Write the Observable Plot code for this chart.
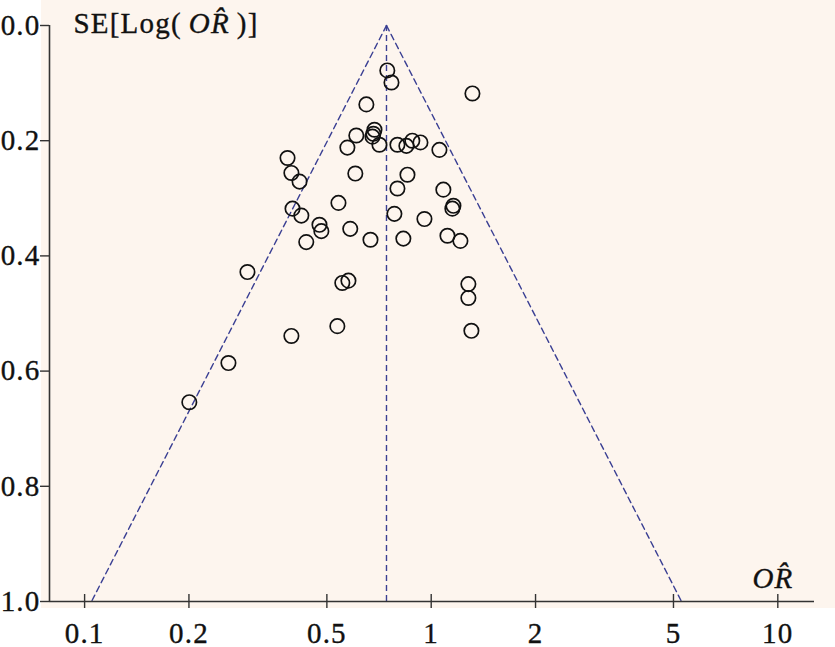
<!DOCTYPE html>
<html>
<head>
<meta charset="utf-8">
<script src="https://cdn.jsdelivr.net/npm/d3@7"></script>
<script src="https://cdn.jsdelivr.net/npm/@observablehq/plot@0.6"></script>
<style>
html, body { margin: 0; padding: 0; background: #ffffff; }
#wrap { position: relative; width: 835px; height: 647px; overflow: hidden; }
#bg { position: absolute; left: 41px; top: 0; width: 794px; height: 608px; background: #fdf5ee; }
#chart { position: absolute; left: 0; top: 0; }
#chart svg text { font-family: "Liberation Serif", serif; letter-spacing: 1.2px; stroke: #111111; stroke-width: 0.35px; }
</style>
</head>
<body>
<div id="wrap"><div id="bg"></div><div id="chart"></div></div>
<script>
// Study odds ratios and standard errors of log(OR)
const orValues = [0.747, 0.768, 1.315, 0.650, 0.686, 0.681, 0.677, 0.608, 0.573, 0.709,
                  0.799, 0.848, 0.882, 0.931, 1.056, 0.385, 0.395, 0.417, 0.604, 0.854,
                  0.799, 1.084, 0.540, 1.159, 1.151, 0.398, 0.422, 0.476, 0.482, 0.436,
                  0.584, 0.668, 0.783, 0.956, 0.831, 1.114, 1.214, 0.554, 0.577, 1.280,
                  1.280, 0.536, 0.395, 1.306, 0.295, 0.260, 0.2005];
const seValues = [0.078, 0.099, 0.118, 0.137, 0.181, 0.188, 0.193, 0.191, 0.212, 0.207,
                  0.207, 0.209, 0.200, 0.203, 0.216, 0.230, 0.256, 0.271, 0.257, 0.259,
                  0.283, 0.285, 0.308, 0.313, 0.318, 0.318, 0.330, 0.346, 0.357, 0.376,
                  0.353, 0.372, 0.327, 0.336, 0.370, 0.365, 0.374, 0.447, 0.443, 0.449,
                  0.473, 0.522, 0.539, 0.530, 0.428, 0.586, 0.654];

// Pooled estimate and pseudo-95% funnel limits (OR at SE = 0 and SE = 1)
const pooledOR = 0.743;
const funnelSE = [0, 1];
const funnelLeftOR = [0.743, 0.1047];
const funnelRightOR = [0.743, 5.274];

// Axes
const xDomain = [0.0792, 12.76];
const yDomain = [0, 1];
const xTicks = [0.1, 0.2, 0.5, 1, 2, 5, 10];
const xTickLabels = ["0.1", "0.2", "0.5", "1", "2", "5", "10"];
const yTicks = [0, 0.2, 0.4, 0.6, 0.8, 1.0];
const yTickLabels = ["0.0", "0.2", "0.4", "0.6", "0.8", "1.0"];
const titleText = "SE[Log(OR)]";
const xLabelText = "OR";

const studies = orValues.map((or, i) => ({ or, se: seValues[i] }));
const leftLine = funnelSE.map((se, i) => ({ or: funnelLeftOR[i], se }));
const rightLine = funnelSE.map((se, i) => ({ or: funnelRightOR[i], se }));
const xTickData = xTicks.map((v, i) => ({ v, label: xTickLabels[i] }));
const yTickData = yTicks.map((v, i) => ({ v, label: yTickLabels[i] }));

const serif = "Liberation Serif";
const axisColor = "#333333";
const textColor = "#111111";
const funnelColor = "#3a3f93";
const fs = 29;

const plot = Plot.plot({
  width: 835,
  height: 647,
  marginLeft: 49,
  marginRight: 21,
  marginTop: 25,
  marginBottom: 46,
  style: { background: "transparent", fontFamily: serif, fontSize: fs + "px", color: textColor, overflow: "visible" },
  x: { type: "log", domain: xDomain, axis: null },
  y: { domain: yDomain, reverse: true, axis: null },
  marks: [
    // funnel
    Plot.line(leftLine, { x: "or", y: "se", stroke: funnelColor, strokeWidth: 1.4, strokeDasharray: "6,4" }),
    Plot.line(rightLine, { x: "or", y: "se", stroke: funnelColor, strokeWidth: 1.4, strokeDasharray: "6,4" }),
    Plot.ruleX([pooledOR], { y1: yDomain[0], y2: yDomain[1], stroke: funnelColor, strokeWidth: 1.4, strokeDasharray: "6,4" }),
    // studies
    Plot.dot(studies, { x: "or", y: "se", r: 7.2, stroke: "#111111", strokeWidth: 1.7, fill: "none" }),
    // axis lines
    Plot.ruleX([xDomain[0]], { stroke: axisColor, strokeWidth: 1.6 }),
    Plot.ruleY([yDomain[1]], { stroke: axisColor, strokeWidth: 1.6 }),
    // y ticks and labels
    Plot.axisY({ ticks: yTicks, tickFormat: () => "", tickSize: 9, stroke: axisColor, strokeWidth: 1.4, label: null }),
    Plot.text(yTickData, { y: "v", text: "label", frameAnchor: "left", textAnchor: "end", lineAnchor: "middle", dx: -9, fontSize: fs, fontFamily: serif, fill: textColor }),
    // x ticks crossing the line, then labels
    Plot.axisX({ ticks: xTicks, tickSize: 14, dy: -7, tickFormat: () => "", stroke: axisColor, strokeWidth: 1.4, label: null }),
    Plot.text(xTickData, { x: "v", text: "label", frameAnchor: "bottom", textAnchor: "middle", lineAnchor: "bottom", dy: 41, fontSize: fs, fontFamily: serif, fill: textColor }),
    // titles
    Plot.text([titleText], { text: d => d, frameAnchor: "top-left", textAnchor: "start", lineAnchor: "bottom", dx: 24, dy: 7, fontSize: fs, fontFamily: serif, fill: textColor }),
    Plot.text([xLabelText], { text: d => d, frameAnchor: "bottom-right", textAnchor: "end", lineAnchor: "bottom", dx: -21, dy: -14, fontSize: fs, fontFamily: serif, fill: textColor })
  ]
});

document.getElementById("chart").appendChild(plot);

// Rich formatting: italic O R with circumflex over R
d3.select(plot).selectAll("text").each(function () {
  const t = this.textContent;
  if (t === titleText) {
    const sel = d3.select(this);
    sel.text(null);
    sel.append("tspan").text("SE[Log(\u2009");
    sel.append("tspan").attr("font-style", "italic").text("OR\u0302");
    sel.append("tspan").text("\u2009)]");
  } else if (t === xLabelText) {
    const sel = d3.select(this);
    sel.text(null);
    sel.append("tspan").attr("font-style", "italic").text("OR\u0302");
  }
});
</script>
</body>
</html>
